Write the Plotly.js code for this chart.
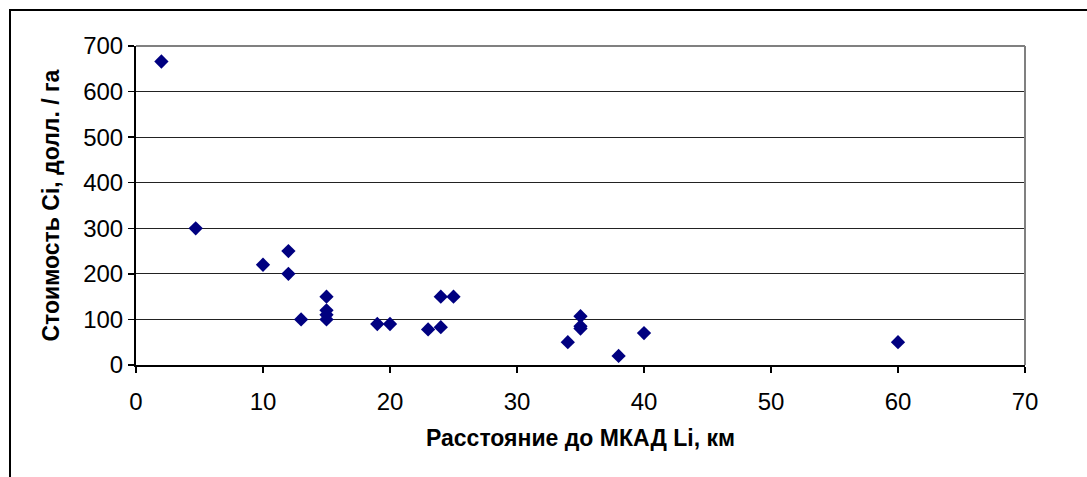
<!DOCTYPE html>
<html>
<head>
<meta charset="utf-8">
<script src="https://cdn.plot.ly/plotly-3.0.1.min.js"></script>
<style>
html,body{margin:0;padding:0;background:#fff;}
#wrap{position:relative;width:1087px;height:477px;overflow:hidden;}
#chart{width:1087px;height:477px;}
#frame{position:absolute;left:9px;top:9px;width:1200px;height:600px;border-top:2px solid #000;border-left:2px solid #000;pointer-events:none;}
</style>
</head>
<body>
<div id="wrap"><div id="chart"></div><div id="frame"></div></div>
<script>
// Distance to MKAD (km)
const distanceKm = [2, 4.7, 10, 12, 12, 13, 15, 15, 15, 15, 19, 20, 23, 24, 24, 25, 34, 35, 35, 35, 38, 40, 60];
// Cost, USD per hectare
const costUsd = [666, 300, 220, 250, 200, 100, 150, 120, 110, 100, 90, 90, 78, 83, 150, 150, 50, 107, 85, 80, 20, 70, 50];
const xTicks = [0, 10, 20, 30, 40, 50, 60, 70];
const yTicks = [0, 100, 200, 300, 400, 500, 600, 700];
const xTitle = 'Расстояние до МКАД Li, км';
const yTitle = 'Стоимость Ci, долл. / га';

const fontFam = 'Liberation Sans, Arial, sans-serif';
const trace = {
  type: 'scatter', mode: 'markers',
  x: distanceKm, y: costUsd,
  marker: {symbol: 'diamond', size: 11, color: '#000080', line: {width: 0}},
  hoverinfo: 'x+y'
};
const layout = {
  width: 1087, height: 477,
  margin: {l: 136, r: 62, t: 46, b: 112},
  paper_bgcolor: '#fff', plot_bgcolor: '#fff',
  showlegend: false,
  font: {family: fontFam, size: 24, color: '#000'},
  xaxis: {
    range: [0, 70], tickvals: xTicks, ticktext: xTicks.map(String),
    showgrid: false, zeroline: false,
    showline: true, linecolor: '#000', linewidth: 2,
    ticks: 'outside', ticklen: 6, tickwidth: 1.5, tickcolor: '#000',
    ticklabelstandoff: 8,
    tickfont: {family: fontFam, size: 24},
    title: {text: xTitle, font: {family: fontFam, size: 23, weight: 'bold'}, standoff: 16},
    automargin: false, fixedrange: true
  },
  yaxis: {
    range: [0, 700], tickvals: yTicks, ticktext: yTicks.map(String),
    showgrid: true, gridcolor: '#222', gridwidth: 1,
    zeroline: false,
    showline: true, linecolor: '#000', linewidth: 2,
    ticks: 'outside', ticklen: 6, tickwidth: 1.5, tickcolor: '#000',
    tickfont: {family: fontFam, size: 24},
    automargin: false, fixedrange: true
  },
  annotations: [{
    text: yTitle, xref: 'paper', yref: 'paper',
    x: -86 / 889, y: 0.5, xanchor: 'center', yanchor: 'middle',
    textangle: -90, showarrow: false,
    font: {family: fontFam, size: 23, weight: 'bold', color: '#000'}
  }],
  shapes: [
    {type: 'line', xref: 'paper', yref: 'paper', x0: 0, x1: 1, y0: 1, y1: 1, line: {color: '#808080', width: 2}},
    {type: 'line', xref: 'paper', yref: 'paper', x0: 1, x1: 1, y0: 0, y1: 1, line: {color: '#808080', width: 2}}
  ]
};
Plotly.newPlot('chart', [trace], layout, {displayModeBar: false, staticPlot: true});
</script>
</body>
</html>
